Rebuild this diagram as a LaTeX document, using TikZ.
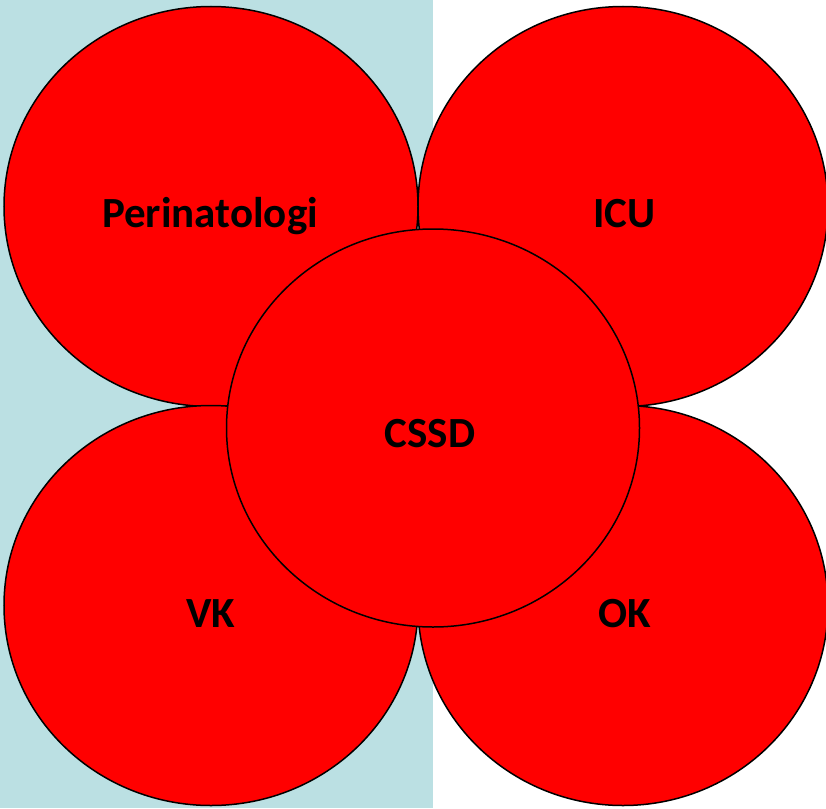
\documentclass[tikz,border=0pt]{standalone}
\usepackage{fontspec}
\setmainfont{Carlito}
\usetikzlibrary{shapes.geometric}
\definecolor{bandblue}{HTML}{BBE0E3}
\definecolor{petal}{HTML}{FF0000}
\tikzset{
  petalshape/.style={ellipse, draw=black, line width=1.5pt, fill=petal, inner sep=0pt, outer sep=0pt},
  lbl/.style={anchor=base, font=\fontsize{43}{50}\selectfont\bfseries, text=black, inner sep=0pt}
}
\begin{document}
\begin{tikzpicture}[x=1pt,y=-1pt]
\useasboundingbox (0,0) rectangle (826,808);
\fill[bandblue] (0,0) rectangle (433,808);
\node[petalshape, minimum width=414pt, minimum height=400pt] (tl) at (211,206.5) {};
\node[petalshape, minimum width=410pt, minimum height=400pt] (tr) at (623,206.5) {};
\node[petalshape, minimum width=414pt, minimum height=400pt] (bl) at (211,605.5) {};
\node[petalshape, minimum width=410pt, minimum height=400pt] (br) at (623,605.5) {};
\node[petalshape, minimum width=413pt, minimum height=398pt] (ctr) at (433,428) {};
\node[lbl] (ltl) at (210,227) {Perinatologi};
\node[lbl] (ltr) at (624.5,227) {ICU};
\node[lbl] (lctr) at (430,447) {CSSD};
\node[lbl] (lbl) at (211,627) {VK};
\node[lbl] (lbr) at (625,627) {OK};
\end{tikzpicture}
\end{document}
